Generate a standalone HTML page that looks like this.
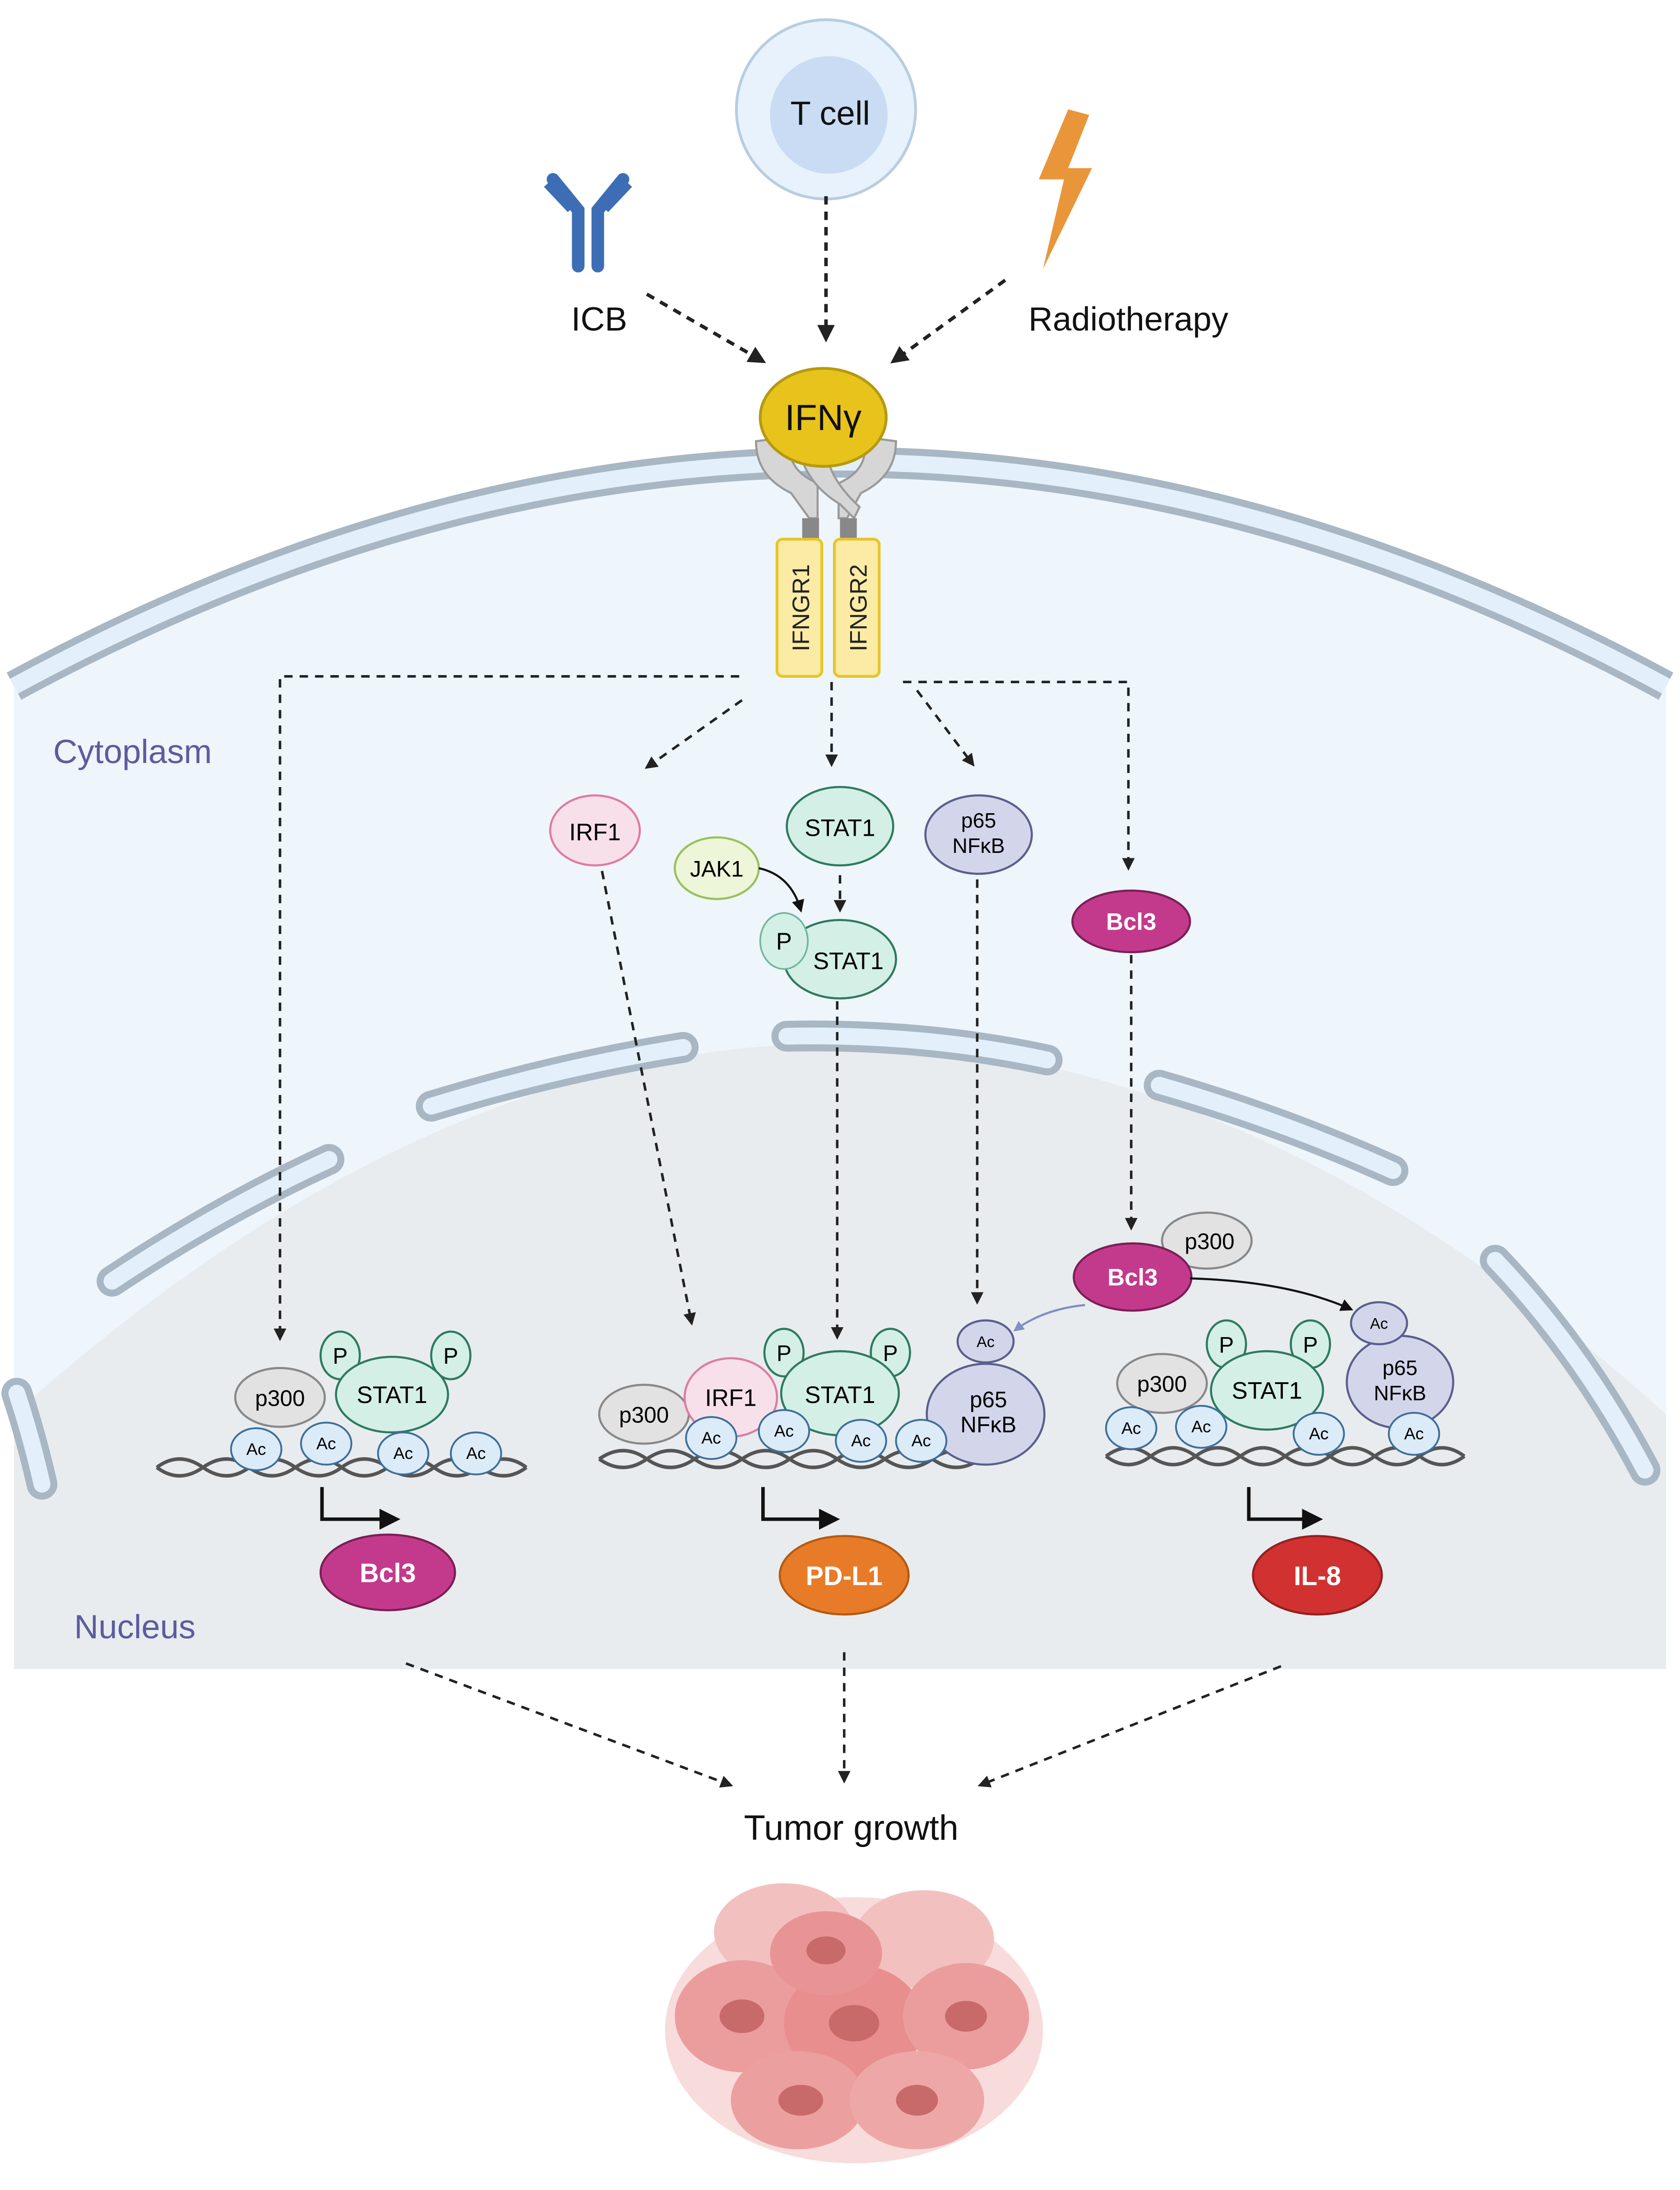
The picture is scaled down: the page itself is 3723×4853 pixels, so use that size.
<!DOCTYPE html>
<html><head><meta charset="utf-8"><style>
html,body{margin:0;padding:0;background:#fff}
svg{display:block}
text{font-family:"Liberation Sans",sans-serif}
</style></head><body>
<svg width="3723" height="4853" viewBox="0 0 1200 1564" xmlns="http://www.w3.org/2000/svg">
<defs>
<marker id="ah" viewBox="0 0 10 10" refX="8" refY="5" markerWidth="5" markerHeight="5" orient="auto"><path d="M0,0L10,5L0,10Z" fill="#222"/></marker>
<marker id="ahb" viewBox="0 0 10 10" refX="8" refY="5" markerWidth="5" markerHeight="5" orient="auto"><path d="M0,0L10,5L0,10Z" fill="#7f8fc0"/></marker>
<marker id="ahs" viewBox="0 0 10 10" refX="8" refY="5" markerWidth="6" markerHeight="6" orient="auto"><path d="M0,0L10,5L0,10Z" fill="#111"/></marker>
</defs>
<!-- cytoplasm -->
<path d="M10,490 Q600,170 1190,490 L1190,1192 L10,1192Z" fill="#eef5fb"/>
<path d="M10,490 Q600,170 1190,490" fill="none" stroke="#a8b7c3" stroke-width="22"/>
<path d="M10,490 Q600,170 1190,490" fill="none" stroke="#e3f0fb" stroke-width="12"/>
<!-- nucleus -->
<path d="M10,1010 Q600,480 1190,1010 L1190,1192 L10,1192Z" fill="#e8ecef"/>
<g fill="none" stroke-linecap="round">
<g stroke="#a8b7c3" stroke-width="22">
<path d="M80,915 Q155,865 235,828"/><path d="M308,790 Q400,762 488,748"/><path d="M562,740 Q660,738 748,757"/><path d="M828,775 Q915,800 995,836"/><path d="M1068,900 Q1130,965 1175,1050"/><path d="M12,995 Q22,1025 30,1060"/>
</g>
<g stroke="#e3f0fb" stroke-width="12">
<path d="M80,915 Q155,865 235,828"/><path d="M308,790 Q400,762 488,748"/><path d="M562,740 Q660,738 748,757"/><path d="M828,775 Q915,800 995,836"/><path d="M1068,900 Q1130,965 1175,1050"/><path d="M12,995 Q22,1025 30,1060"/>
</g></g>
<!-- top -->
<circle cx="590" cy="78" r="64" fill="#e8f2fc" stroke="#b8cde0" stroke-width="2"/>
<circle cx="592" cy="82" r="42" fill="#c9dcf3"/>
<text x="593" y="89" font-size="24" text-anchor="middle" fill="#111">T cell</text>
<g stroke="#3d6eb5" stroke-width="9" stroke-linecap="round" fill="none">
<path d="M413,190 V150 L395,128"/><path d="M427,190 V150 L445,128"/></g>
<g stroke="#3d6eb5" stroke-width="4" fill="none"><path d="M407,150 L390,132"/><path d="M433,150 L450,132"/></g>
<path d="M763,78 L742,128 L760,128 L745,192 L780,120 L763,120 L778,82 Z" fill="#e9963a"/>
<text x="428" y="236" font-size="24" text-anchor="middle" fill="#111">ICB</text>
<text x="806" y="236" font-size="24" text-anchor="middle" fill="#111">Radiotherapy</text>
<g stroke="#222" stroke-width="2.5" stroke-dasharray="6,5" fill="none" marker-end="url(#ah)">
<path d="M462,210 L545,258"/><path d="M590,140 L590,242"/><path d="M718,200 L638,258"/></g>
<!-- receptors -->
<g fill="#d6d6d6" stroke="#9a9a9a" stroke-width="1.5">
<path d="M540,315 Q540,340 565,352 L578,370 L584,370 L584,345 Q560,335 565,312Z"/>
<path d="M640,315 Q640,340 615,352 L605,370 L599,370 L599,345 Q622,335 617,312Z"/>
<path d="M570,318 Q575,345 600,360 L610,370 L614,362 Q590,340 590,318Z"/>
</g>
<rect x="573" y="370" width="12" height="18" fill="#888"/><rect x="600" y="370" width="12" height="18" fill="#888"/>
<rect x="555" y="385" width="32" height="98" rx="4" fill="#fbeba4" stroke="#e6c52a" stroke-width="2"/>
<rect x="596" y="385" width="32" height="98" rx="4" fill="#fbeba4" stroke="#e6c52a" stroke-width="2"/>
<text transform="translate(578,434) rotate(-90)" font-size="17" text-anchor="middle" fill="#222">IFNGR1</text>
<text transform="translate(619,434) rotate(-90)" font-size="17" text-anchor="middle" fill="#222">IFNGR2</text>
<ellipse cx="588" cy="298" rx="45" ry="35" fill="#e8c31c" stroke="#b59a10" stroke-width="2"/>
<text x="588" y="307" font-size="26" text-anchor="middle" fill="#111">IFNγ</text>
<text x="38" y="545" font-size="24" fill="#5c5c9c">Cytoplasm</text>
<text x="53" y="1170" font-size="24" fill="#5c5c9c">Nucleus</text>
<!-- dashed paths -->
<g stroke="#222" stroke-width="1.8" stroke-dasharray="6,5" fill="none" marker-end="url(#ah)">
<path d="M528,483 L200,483 L200,956"/><path d="M530,500 L462,548"/><path d="M594,487 L594,546"/><path d="M655,493 L695,546"/><path d="M645,487 L806,487 L806,620"/>
<path d="M430,622 L494,945"/><path d="M598,715 L598,955"/><path d="M698,628 L698,930"/><path d="M808,682 L808,877"/><path d="M600,625 L600,650"/>
<path d="M290,1188 L522,1275"/><path d="M603,1180 L603,1272"/><path d="M915,1190 L700,1275"/>
</g>
<!-- cytoplasm proteins -->
<ellipse cx="425" cy="593" rx="32" ry="25" fill="#f8e0ea" stroke="#e07ba0" stroke-width="1.5"/>
<text x="425" y="600" font-size="17" text-anchor="middle">IRF1</text>
<ellipse cx="600" cy="590" rx="38" ry="28" fill="#d4efe6" stroke="#2e7a5e" stroke-width="1.5"/>
<text x="600" y="597" font-size="17" text-anchor="middle">STAT1</text>
<ellipse cx="699" cy="596" rx="38" ry="28" fill="#d3d6ea" stroke="#5a5f8c" stroke-width="1.5"/>
<text x="699" y="591" font-size="15" text-anchor="middle">p65</text><text x="699" y="609" font-size="15" text-anchor="middle">NFκB</text>
<ellipse cx="512" cy="620" rx="30" ry="22" fill="#edf6d8" stroke="#9bbf5c" stroke-width="1.5"/>
<text x="512" y="626" font-size="16" text-anchor="middle">JAK1</text>
<path d="M542,620 Q565,625 572,650" fill="none" stroke="#111" stroke-width="1.5" marker-end="url(#ahs)"/>
<ellipse cx="600" cy="685" rx="40" ry="28" fill="#d4efe6" stroke="#2e7a5e" stroke-width="1.5"/>
<ellipse cx="560" cy="672" rx="17" ry="20" fill="#d4efe6" stroke="#6fb89a" stroke-width="1.2"/>
<text x="560" y="678" font-size="17" text-anchor="middle">P</text>
<text x="606" y="692" font-size="17" text-anchor="middle">STAT1</text>
<ellipse cx="808" cy="658" rx="42" ry="22" fill="#c33a8c" stroke="#7a1f55" stroke-width="1.5"/>
<text x="808" y="664" font-size="17" font-weight="bold" fill="#fff" text-anchor="middle">Bcl3</text>
<!-- nucleus Bcl3 -->
<ellipse cx="862" cy="886" rx="32" ry="20" fill="#e2e2e2" stroke="#888" stroke-width="1.5"/>
<text x="864" y="892" font-size="16" text-anchor="middle">p300</text>
<ellipse cx="809" cy="912" rx="42" ry="24" fill="#c33a8c" stroke="#7a1f55" stroke-width="1.5"/>
<text x="809" y="918" font-size="17" font-weight="bold" fill="#fff" text-anchor="middle">Bcl3</text>
<path d="M850,913 Q920,915 965,935" fill="none" stroke="#111" stroke-width="1.5" marker-end="url(#ahs)"/>
<path d="M775,932 Q745,935 725,950" fill="none" stroke="#7f8fc0" stroke-width="1.5" marker-end="url(#ahb)"/>
<!-- DNA helper -->
<g id="dna1" fill="none" stroke="#555" stroke-width="2.5">
<path d="M112,1048 Q128,1036 145,1048 T178,1048 T211,1048 T244,1048 T277,1048 T310,1048 T343,1048 T376,1048"/>
<path d="M112,1048 Q128,1060 145,1048 T178,1048 T211,1048 T244,1048 T277,1048 T310,1048 T343,1048 T376,1048"/>
</g>
<g fill="none" stroke="#555" stroke-width="2.5">
<path d="M428,1042 Q445,1030 462,1042 T496,1042 T530,1042 T564,1042 T598,1042 T632,1042 T666,1042 T700,1042"/>
<path d="M428,1042 Q445,1054 462,1042 T496,1042 T530,1042 T564,1042 T598,1042 T632,1042 T666,1042 T700,1042"/>
<path d="M790,1040 Q806,1028 822,1040 T854,1040 T886,1040 T918,1040 T950,1040 T982,1040 T1014,1040 T1046,1040"/>
<path d="M790,1040 Q806,1052 822,1040 T854,1040 T886,1040 T918,1040 T950,1040 T982,1040 T1014,1040 T1046,1040"/>
</g>
<!-- left complex -->
<g stroke-width="1.5">
<ellipse cx="200" cy="998" rx="32" ry="21" fill="#e2e2e2" stroke="#888"/>
<ellipse cx="243" cy="968" rx="14" ry="17" fill="#d4efe6" stroke="#2e7a5e"/>
<ellipse cx="322" cy="968" rx="14" ry="17" fill="#d4efe6" stroke="#2e7a5e"/>
<ellipse cx="280" cy="996" rx="40" ry="27" fill="#d4efe6" stroke="#2e7a5e"/>
</g>
<text x="200" y="1004" font-size="16" text-anchor="middle">p300</text>
<text x="243" y="974" font-size="16" text-anchor="middle">P</text><text x="322" y="974" font-size="16" text-anchor="middle">P</text>
<text x="280" y="1002" font-size="17" text-anchor="middle">STAT1</text>
<!-- middle complex -->
<g stroke-width="1.5">
<ellipse cx="460" cy="1010" rx="32" ry="21" fill="#e2e2e2" stroke="#888"/>
<ellipse cx="522" cy="998" rx="33" ry="28" fill="#f8e0ea" stroke="#e07ba0"/>
<ellipse cx="560" cy="966" rx="14" ry="17" fill="#d4efe6" stroke="#2e7a5e"/>
<ellipse cx="636" cy="966" rx="14" ry="17" fill="#d4efe6" stroke="#2e7a5e"/>
<ellipse cx="600" cy="995" rx="42" ry="30" fill="#d4efe6" stroke="#2e7a5e"/>
<ellipse cx="704" cy="1010" rx="42" ry="36" fill="#d3d6ea" stroke="#5a5f8c"/>
<ellipse cx="704" cy="958" rx="20" ry="15" fill="#d3d6ea" stroke="#5a5f8c"/>
</g>
<text x="460" y="1016" font-size="16" text-anchor="middle">p300</text>
<text x="522" y="1004" font-size="17" text-anchor="middle">IRF1</text>
<text x="560" y="972" font-size="16" text-anchor="middle">P</text><text x="636" y="972" font-size="16" text-anchor="middle">P</text>
<text x="600" y="1002" font-size="17" text-anchor="middle">STAT1</text>
<text x="704" y="962" font-size="11" text-anchor="middle">Ac</text>
<text x="706" y="1005" font-size="16" text-anchor="middle">p65</text><text x="706" y="1023" font-size="16" text-anchor="middle">NFκB</text>
<!-- right complex -->
<g stroke-width="1.5">
<ellipse cx="830" cy="988" rx="32" ry="21" fill="#e2e2e2" stroke="#888"/>
<ellipse cx="876" cy="960" rx="14" ry="17" fill="#d4efe6" stroke="#2e7a5e"/>
<ellipse cx="936" cy="960" rx="14" ry="17" fill="#d4efe6" stroke="#2e7a5e"/>
<ellipse cx="905" cy="993" rx="40" ry="28" fill="#d4efe6" stroke="#2e7a5e"/>
<ellipse cx="1000" cy="987" rx="38" ry="33" fill="#d3d6ea" stroke="#5a5f8c"/>
<ellipse cx="985" cy="945" rx="20" ry="15" fill="#d3d6ea" stroke="#5a5f8c"/>
</g>
<text x="830" y="994" font-size="16" text-anchor="middle">p300</text>
<text x="876" y="966" font-size="16" text-anchor="middle">P</text><text x="936" y="966" font-size="16" text-anchor="middle">P</text>
<text x="905" y="999" font-size="17" text-anchor="middle">STAT1</text>
<text x="985" y="949" font-size="11" text-anchor="middle">Ac</text>
<text x="1000" y="982" font-size="15" text-anchor="middle">p65</text><text x="1000" y="1000" font-size="15" text-anchor="middle">NFκB</text>
<!-- Ac circles -->
<g fill="#dcebf8" stroke="#3d6e9a" stroke-width="1.3">
<ellipse cx="183" cy="1035" rx="18" ry="15"/><ellipse cx="233" cy="1031" rx="18" ry="15"/><ellipse cx="288" cy="1038" rx="18" ry="15"/><ellipse cx="340" cy="1038" rx="18" ry="15"/>
<ellipse cx="508" cy="1027" rx="18" ry="15"/><ellipse cx="560" cy="1022" rx="18" ry="15"/><ellipse cx="615" cy="1029" rx="18" ry="15"/><ellipse cx="658" cy="1029" rx="18" ry="15"/>
<ellipse cx="808" cy="1020" rx="18" ry="15"/><ellipse cx="858" cy="1019" rx="18" ry="15"/><ellipse cx="942" cy="1024" rx="18" ry="15"/><ellipse cx="1010" cy="1024" rx="18" ry="15"/>
</g>
<g font-size="12" text-anchor="middle">
<text x="183" y="1039">Ac</text><text x="233" y="1035">Ac</text><text x="288" y="1042">Ac</text><text x="340" y="1042">Ac</text>
<text x="508" y="1031">Ac</text><text x="560" y="1026">Ac</text><text x="615" y="1033">Ac</text><text x="658" y="1033">Ac</text>
<text x="808" y="1024">Ac</text><text x="858" y="1023">Ac</text><text x="942" y="1028">Ac</text><text x="1010" y="1028">Ac</text>
</g>
<!-- transcription arrows -->
<g fill="none" stroke="#111" stroke-width="2.5" marker-end="url(#ahs)">
<path d="M230,1062 V1085 H283"/><path d="M545,1062 V1085 H597"/><path d="M892,1062 V1085 H942"/></g>
<ellipse cx="277" cy="1123" rx="48" ry="27" fill="#c33a8c" stroke="#7a1f55" stroke-width="1.5"/>
<text x="277" y="1130" font-size="19" font-weight="bold" fill="#fff" text-anchor="middle">Bcl3</text>
<ellipse cx="603" cy="1125" rx="46" ry="28" fill="#e87b27" stroke="#b55a12" stroke-width="1.5"/>
<text x="603" y="1132" font-size="19" font-weight="bold" fill="#fff" text-anchor="middle">PD-L1</text>
<ellipse cx="941" cy="1125" rx="46" ry="28" fill="#d23131" stroke="#951f1f" stroke-width="1.5"/>
<text x="941" y="1132" font-size="19" font-weight="bold" fill="#fff" text-anchor="middle">IL-8</text>
<text x="608" y="1314" font-size="25" text-anchor="middle" fill="#111">Tumor growth</text>
<!-- tumor -->
<g>
<ellipse cx="610" cy="1450" rx="135" ry="95" fill="#f6d2d2" opacity="0.8"/>
<ellipse cx="560" cy="1380" rx="50" ry="35" fill="#f3c0c0"/>
<ellipse cx="660" cy="1385" rx="50" ry="35" fill="#f3c0c0"/>
<ellipse cx="530" cy="1440" rx="48" ry="40" fill="#eb9d9d"/>
<ellipse cx="610" cy="1445" rx="50" ry="42" fill="#e98e8e"/>
<ellipse cx="690" cy="1440" rx="45" ry="38" fill="#eb9d9d"/>
<ellipse cx="570" cy="1500" rx="48" ry="35" fill="#ec9f9f"/>
<ellipse cx="655" cy="1500" rx="48" ry="35" fill="#eda7a7"/>
<ellipse cx="590" cy="1395" rx="40" ry="30" fill="#e99494"/>
<g fill="#c96a6a"><ellipse cx="530" cy="1440" rx="16" ry="12"/><ellipse cx="610" cy="1445" rx="18" ry="13"/><ellipse cx="690" cy="1440" rx="15" ry="11"/><ellipse cx="572" cy="1500" rx="16" ry="11"/><ellipse cx="655" cy="1500" rx="15" ry="11"/><ellipse cx="590" cy="1393" rx="14" ry="10"/></g>
</g>
</svg>
</body></html>
